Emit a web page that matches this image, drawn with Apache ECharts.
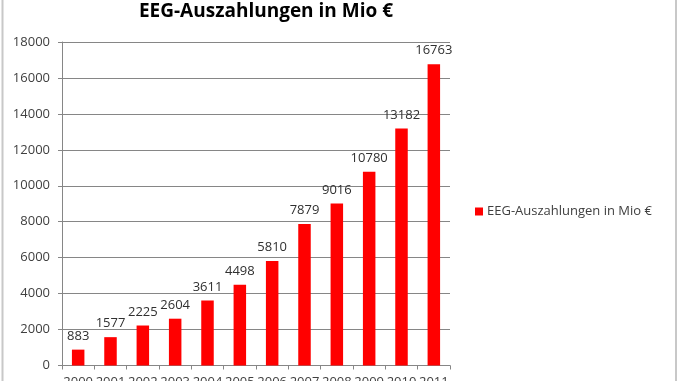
<!DOCTYPE html>
<html><head><meta charset="utf-8">
<script src="https://cdn.jsdelivr.net/npm/echarts@6/dist/echarts.min.js"></script>
<style>html,body{margin:0;padding:0;background:#fff}#c{width:678px;height:381px}</style>
</head><body><div id="c"></div>
<script>
const categories = ['2000','2001','2002','2003','2004','2005','2006','2007','2008','2009','2010','2011'];
const values = [883,1577,2225,2604,3611,4498,5810,7879,9016,10780,13182,16763];
const seriesName = 'EEG-Auszahlungen in Mio €';
const titleText = 'EEG-Auszahlungen in Mio €';

const chart = echarts.init(document.getElementById('c'), null, {renderer:'canvas'});
const font = 'Open Sans';
chart.setOption({
  animation:false,
  backgroundColor:'#fff',
  textStyle:{fontFamily:font},
  title:{text:titleText,left:261,top:-3,textAlign:'center',
    textStyle:{fontFamily:font,fontWeight:'bold',fontSize:19,color:'#000'}},
  legend:{data:[seriesName],left:475,top:205,padding:0,itemWidth:8,itemHeight:8,itemGap:4,icon:'rect',
    textStyle:{fontFamily:font,fontSize:13,color:'#404040',padding:[0,0,0,-1]}},
  grid:{left:62,right:228,top:42,bottom:15.5,containLabel:false,outerBoundsMode:'none'},
  xAxis:{type:'category',data:categories,
    axisLine:{lineStyle:{color:'#868686',width:1}},
    axisTick:{show:true,length:4,lineStyle:{color:'#868686'},alignWithLabel:false},
    axisLabel:{fontSize:13,color:'#404040',margin:10,interval:0,verticalAlign:'top',lineHeight:13,padding:[0,0,0,0]}},
  yAxis:{type:'value',min:0,max:18000,interval:2000,
    axisLine:{show:true,lineStyle:{color:'#868686'}},
    axisTick:{show:true,length:4,lineStyle:{color:'#868686'}},
    splitLine:{lineStyle:{color:'#868686'}},
    axisLabel:{fontSize:13,color:'#404040',margin:12,formatter:function(v){return String(v);}}},
  series:[{name:seriesName,type:'bar',data:values,barWidth:12.5,
    itemStyle:{color:'#ff0000'},
    label:{show:true,position:'top',distance:7,fontSize:13,color:'#303030'}}],
  graphic:[
    {type:'line',shape:{x1:2.5,y1:0,x2:2.5,y2:381},style:{stroke:'#c8c8c8',lineWidth:2}},
    {type:'line',shape:{x1:676,y1:0,x2:676,y2:381},style:{stroke:'#c8c8c8',lineWidth:2}}
  ]
});
</script></body></html>
